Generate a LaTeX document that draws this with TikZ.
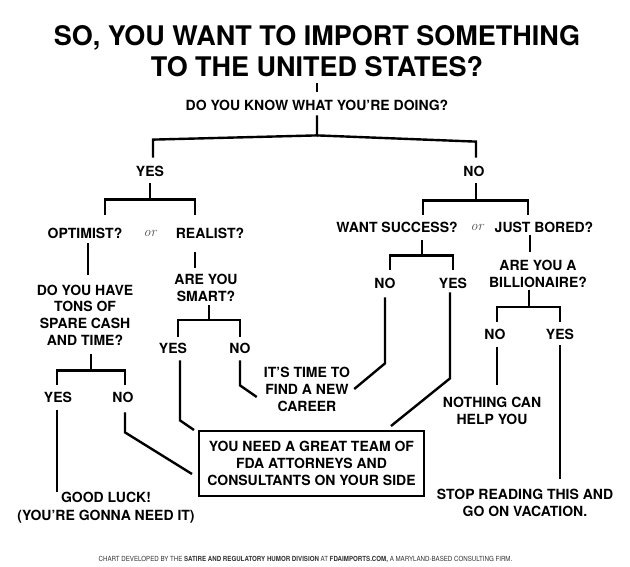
\documentclass[tikz,border=0pt]{standalone}
\usepackage{fontspec}
\setsansfont{TeX Gyre Heros}
\newfontfamily\footfont{TeX Gyre Heros}[FakeStretch=0.88]
\usetikzlibrary{calc}

\begin{document}
\begin{tikzpicture}[
    x=1pt, y=-1pt,
    %% labels
    headline/.style = {
      font=\sffamily\bfseries\fontsize{27}{31}\selectfont,
      align=center, inner sep=0pt, text depth=0pt},
    ques/.style = {
      font=\sffamily\bfseries\fontsize{14}{16.7}\selectfont,
      align=center, inner sep=0pt, text depth=0pt},
    orword/.style = {
      font=\rmfamily\itshape\fontsize{14}{14}\selectfont,
      text=black!70, inner sep=0pt},
    %% the one framed answer
    goalbox/.style = {
      ques, draw, line width=2pt,
      minimum width=225pt, minimum height=65pt},
    footnote/.style = {
      font=\footfont\fontsize{7}{7}\selectfont, text=black!80, inner sep=0pt},
    %% connectors
    link/.style = {line width=2.4pt, black},
  ]
    \path[fill=white] (0,0) rectangle (630,567);

    %% ── Title and first question ──────────────────────────────────────
    \node[headline] (title) at (317,50.5) {SO, YOU WANT TO IMPORT SOMETHING\\TO THE UNITED STATES?};
    \node[ques] (know) at (317,105) {DO YOU KNOW WHAT YOU'RE DOING?};
    \draw[link] ($(title.south)+(0,7)$) -- ($(know.north)+(0,-8)$);

    \node[ques] (yes1) at (150,171) {YES};
    \node[ques] (no1)  at (474,171) {NO};
    \coordinate (k0) at ($(know.south)+(0,25)$);
    \draw[link] ($(know.south)+(0,5)$) -- (k0) -- ($(yes1.north)+(3,-26)$) -- ($(yes1.north)+(3,-8)$);
    \draw[link] (k0) -- ($(no1.north)+(2,-24)$) -- ($(no1.north)+(2,-8)$);

    %% ── YES branch ────────────────────────────────────────────────────
    \node[ques]   (opt)  at (85,233)  {OPTIMIST?};
    \node[orword] (or1)  at (150,233) {or};
    \node[ques]   (real) at (210,233) {REALIST?};
    \draw[link] ($(yes1.south)+(0,7)$) -- ++(0,16) coordinate (b1);
    \draw[link] ($(opt.north)+(20,-13)$) |- (b1) -| ($(real.north)+(-15,-13)$);

    \node[ques] (cash)  at (85,315)   {DO YOU HAVE\\TONS OF\\SPARE CASH\\AND TIME?};
    \node[ques] (smart) at (206,287.5) {ARE YOU\\SMART?};
    \draw[link] ($(opt.south)+(3,5)$) -- ($(cash.north)+(3,-10)$);
    \draw[link] ($(real.south)+(-15,14)$) -- ($(smart.north)+(-11,-6)$);

    \node[ques] (yes2) at (173,348) {YES};
    \node[ques] (no2)  at (240,348) {NO};
    \draw[link] ($(smart.south)+(3,4)$) -- ++(0,15) coordinate (b2);
    \draw[link] ($(yes2.north)+(5,-6)$) |- (b2) -| ($(no2.north)+(0,-6)$);

    \node[ques] (yes3) at (58,397)  {YES};
    \node[ques] (no3)  at (123,397) {NO};
    \draw[link] ($(cash.south)+(6,9)$) -- ++(0,16) coordinate (b3);
    \draw[link] ($(yes3.north)+(-1,-7)$) |- (b3) -| ($(no3.north)+(2,-7)$);

    \node[ques] (luck)   at (106,506)   {GOOD LUCK!\\[1.3pt](YOU'RE GONNA NEED IT)};
    \node[ques] (career) at (307,389.5) {IT'S TIME TO\\FIND A NEW\\CAREER};
    \node[goalbox] (team) at (311.5,463.5) {YOU NEED A GREAT TEAM OF\\FDA ATTORNEYS AND\\CONSULTANTS ON YOUR SIDE};

    \draw[link] ($(yes3.south)+(-1,8)$) -- ($(yes3.south|-luck.north)+(-1,0)$);
    \draw[link] ($(no3.south)+(2,10)$) -- ++(0,20) -- ($(team.west)+(-6,10.5)$);
    \draw[link] ($(yes2.south)+(7,7)$) -- ++(0,60) -- ($(team.north west)+(-4,0)$);
    \draw[link] ($(no2.south)+(0,7)$) -- ++(0,25) -- ($(career.west)+(-7,7.5)$);

    %% ── NO branch ─────────────────────────────────────────────────────
    \node[ques]   (want)  at (397,227) {WANT SUCCESS?};
    \node[orword] (or2)   at (477,227) {or};
    \node[ques]   (bored) at (544,227) {JUST BORED?};
    \draw[link] ($(no1.south)+(2,7)$) -- ++(0,17) coordinate (b4);
    \draw[link] ($(want.north)+(26,-7)$) |- (b4) -| ($(bored.north)+(-16,-7)$);

    \node[ques] (no4)  at (385,283) {NO};
    \node[ques] (yes4) at (453,283) {YES};
    \draw[link] ($(want.south)+(25,8)$) -- ++(0,15) coordinate (b5);
    \draw[link] ($(no4.north)+(5,-8)$) |- (b5) -| ($(yes4.north)+(0,-8)$);
    \draw[link] ($(no4.south)+(0,9)$) -- ++(0,66) -- ($(career.east)+(4,-0.5)$);
    \draw[link] ($(yes4.south)+(-3,4)$) -- ++(0,86) -- ($(team.north east)+(-34,-4)$);

    \node[ques] (billion) at (538,273.5) {ARE YOU A\\BILLIONAIRE?};
    \draw[link] ($(bored.south)+(-14,3)$) -- ($(billion.north)+(-8,-8)$);

    \node[ques] (no5)  at (495,334) {NO};
    \node[ques] (yes5) at (560,334) {YES};
    \draw[link] ($(billion.south)+(-9,3)$) -- ++(0,17) coordinate (b6);
    \draw[link] ($(no5.north)+(2,-7)$) |- (b6) -| ($(yes5.north)+(0,-7)$);

    \node[ques] (nothing)  at (492,411)   {NOTHING CAN\\HELP YOU};
    \node[ques] (vacation) at (525,502.5) {STOP READING THIS AND\\GO ON VACATION.};
    \draw[link] ($(no5.south)+(2,8)$) -- ($(nothing.north)+(5,-12)$);
    \draw[link] ($(yes5.south)+(0,6)$) -- ($(yes5.south|-vacation.north)+(0,-10)$);

    %% ── Footer ────────────────────────────────────────────────────────
    \node[footnote] (credit) at (305.5,559) {CHART DEVELOPED BY THE \textbf{SATIRE AND REGULATORY HUMOR DIVISION} AT \textbf{FDAIMPORTS.COM,} A MARYLAND-BASED CONSULTING FIRM.};

  \end{tikzpicture}
\end{document}
